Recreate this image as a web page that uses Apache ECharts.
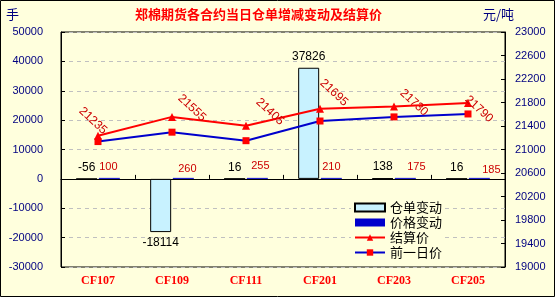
<!DOCTYPE html>
<html><head><meta charset="utf-8">
<script src="https://cdn.jsdelivr.net/npm/echarts@6/dist/echarts.min.js"></script>
<style>html,body{margin:0;padding:0;background:#FFFFDD;} #c{width:555px;height:297px;}</style>
</head><body><div id="c"></div>
<script>
// ---- data ----
const categories = ['CF107', 'CF109', 'CF111', 'CF201', 'CF203', 'CF205'];
const warehouseChange = [-56, -18114, 16, 37826, 138, 16];
const priceChange = [100, 260, 255, 210, 175, 185];
const settlePrice = [21235, 21555, 21405, 21695, 21730, 21790];
const prevPrice = [21135, 21295, 21150, 21485, 21555, 21605];
const leftAxisTicks = [-30000, -20000, -10000, 0, 10000, 20000, 30000, 40000, 50000];
const rightAxisTicks = [19000, 19400, 19800, 20200, 20600, 21000, 21400, 21800, 22200, 22600, 23000];

// ---- label styling (not data) ----
const settleLabelShift = [[-5, -15], [20, -9], [24, -14], [14, -16], [20, -4], [11, 6]];
const priceLabelShift = [[-1, 0], [4, 2], [3, -1], [0, 0], [11, 0], [12, 3]];
const warehouseLabelPos = ['top', 'bottom', 'top', 'top', 'top', 'top'];

const navy = '#000080';
const chart = echarts.init(document.getElementById('c'));
const symSize = 8;
const plain = v => String(v);

chart.setOption({
  animation: false,
  backgroundColor: '#FFFFDD',
  title: [
    { text: '郑棉期货各合约当日仓单增减变动及结算价', left: 135, top: 8, padding: 0,
      textStyle: { color: '#FF0000', fontSize: 13, fontWeight: 'bold', fontFamily: 'Noto Sans CJK SC' } },
    { text: '手', left: 6, top: 8, padding: 0,
      textStyle: { color: navy, fontSize: 13, fontWeight: 'normal', fontFamily: 'Noto Sans CJK SC' } },
    { text: '元/吨', left: 483, top: 8, padding: 0,
      textStyle: { color: navy, fontSize: 13, fontWeight: 'normal', fontFamily: 'Noto Sans CJK SC' } }
  ],
  graphic: [{ type: 'rect', shape: { x: 0.5, y: 0.5, width: 554, height: 296 },
    style: { fill: 'none', stroke: '#000', lineWidth: 1 }, silent: true }],
  legend: {
    orient: 'vertical', left: 351, top: 199, padding: [2, 3],
    itemWidth: 30, itemHeight: 8, itemGap: 2, itemTextGap: 3,
    backgroundColor: '#FFFFDD',
    textStyle: { color: '#000', fontSize: 13, fontFamily: 'Noto Sans CJK SC' },
    data: [{ name: '仓单变动', icon: 'rect' }, { name: '价格变动', icon: 'rect' }, '结算价', '前一日价']
  },
  grid: { left: 61, right: 50, top: 32, bottom: 30, show: true, borderColor: '#000', borderWidth: 1, backgroundColor: 'transparent' },
  xAxis: [
    { type: 'category', data: categories, position: 'bottom',
      axisLine: { show: false, onZero: false }, axisTick: { show: false },
      axisLabel: { color: '#FF0000', fontWeight: 'bold', fontSize: 12, fontFamily: 'Liberation Serif', margin: 8 } },
    { type: 'category', data: categories, position: 'bottom',
      axisLine: { show: true, onZero: true, onZeroAxisIndex: 0, lineStyle: { color: '#000', width: 1 } },
      axisTick: { show: true, inside: true, length: 4, lineStyle: { color: '#000' } },
      axisLabel: { show: false }, splitLine: { show: false } }
  ],
  yAxis: [
    { type: 'value', position: 'left',
      min: leftAxisTicks[0], max: leftAxisTicks[leftAxisTicks.length - 1],
      interval: leftAxisTicks[1] - leftAxisTicks[0],
      axisLine: { show: true, lineStyle: { color: '#000' } },
      axisTick: { show: true, inside: true, length: 4, lineStyle: { color: '#000' } },
      axisLabel: { color: navy, fontSize: 11, fontFamily: 'Liberation Sans', margin: 18, formatter: plain },
      splitLine: { show: true, lineStyle: { color: '#C0C0C0', type: [4, 4], width: 1 } } },
    { type: 'value', position: 'right',
      min: rightAxisTicks[0], max: rightAxisTicks[rightAxisTicks.length - 1],
      interval: rightAxisTicks[1] - rightAxisTicks[0],
      axisLine: { show: true, lineStyle: { color: '#000' } },
      axisTick: { show: true, inside: true, length: 4, lineStyle: { color: '#000' } },
      axisLabel: { color: navy, fontSize: 11, fontFamily: 'Liberation Sans', margin: 10, formatter: plain },
      splitLine: { show: false } }
  ],
  series: [
    { name: '仓单变动', type: 'bar', xAxisIndex: 0, yAxisIndex: 0, barWidth: 21, barGap: '8%',
      itemStyle: { color: '#C8F2FF', borderColor: '#000', borderWidth: 1 },
      data: warehouseChange.map((v, i) => ({ value: v,
        label: { show: true, position: warehouseLabelPos[i], distance: 5,
          color: '#000', fontSize: 12, fontFamily: 'Liberation Sans' } })) },
    { name: '价格变动', type: 'bar', xAxisIndex: 0, yAxisIndex: 0, barWidth: 21, barMinHeight: 1,
      itemStyle: { color: '#0000CC' },
      data: priceChange.map((v, i) => ({ value: v,
        label: { show: true, position: 'top', distance: 5, offset: priceLabelShift[i],
          color: '#CC0000', fontSize: 11, fontFamily: 'Liberation Sans' } })) },
    { name: '结算价', type: 'line', xAxisIndex: 0, yAxisIndex: 1,
      symbol: 'triangle', symbolSize: symSize,
      lineStyle: { color: '#FF0000', width: 2 }, itemStyle: { color: '#FF0000' },
      data: settlePrice.map((v, i) => ({ value: v,
        label: { show: true, position: [symSize / 2 + settleLabelShift[i][0], symSize / 2 + settleLabelShift[i][1]],
          rotate: -43, align: 'center', verticalAlign: 'middle',
          color: '#CC0000', fontSize: 12, fontFamily: 'Liberation Sans' } })) },
    { name: '前一日价', type: 'line', xAxisIndex: 0, yAxisIndex: 1,
      symbol: 'rect', symbolSize: 7,
      lineStyle: { color: '#0000CC', width: 2 }, itemStyle: { color: '#FF0000' },
      data: prevPrice }
  ]
});
</script></body></html>
